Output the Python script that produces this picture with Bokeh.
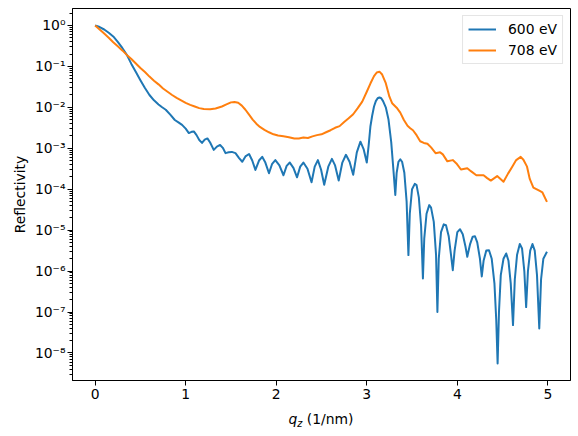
import numpy as np
from bokeh.plotting import figure
from bokeh.layouts import column
from bokeh.models import FixedTicker, CustomJSTickFormatter, Range1d, Div
from bokeh.embed import file_html
from bokeh.resources import INLINE

# Momentum transfer q_z (1/nm) and log10 of the reflectivity for both photon energies
q_600 = [
    0.00, 0.05, 0.10, 0.15, 0.20, 0.25, 0.30, 0.35, 0.40, 0.45,
    0.50, 0.55, 0.60, 0.65, 0.70, 0.74, 0.78, 0.83, 0.88, 0.92,
    0.96, 1.00, 1.035, 1.065, 1.09, 1.12, 1.15, 1.18, 1.21, 1.24,
    1.27, 1.31, 1.345, 1.38, 1.41, 1.44, 1.475, 1.51, 1.55, 1.59,
    1.625, 1.66, 1.70, 1.735, 1.77, 1.81, 1.845, 1.88, 1.92, 1.955,
    1.99, 2.035, 2.08, 2.115, 2.15, 2.19, 2.23, 2.265, 2.30, 2.345,
    2.39, 2.425, 2.46, 2.495, 2.53, 2.575, 2.615, 2.65, 2.69, 2.73,
    2.77, 2.81, 2.85, 2.89, 2.93, 2.965, 3.00, 3.02, 3.04, 3.06,
    3.08, 3.10, 3.12, 3.14, 3.16, 3.18, 3.21, 3.24, 3.27, 3.295,
    3.315, 3.33, 3.35, 3.37, 3.39, 3.415, 3.44, 3.46, 3.475, 3.50,
    3.53, 3.55, 3.575, 3.60, 3.62, 3.635, 3.66, 3.69, 3.71, 3.74,
    3.765, 3.78, 3.795, 3.82, 3.85, 3.875, 3.905, 3.93, 3.95, 3.97,
    4.00, 4.03, 4.06, 4.09, 4.11, 4.14, 4.17, 4.195, 4.22, 4.25,
    4.27, 4.29, 4.32, 4.35, 4.38, 4.41, 4.43, 4.445, 4.46, 4.48,
    4.51, 4.54, 4.565, 4.59, 4.615, 4.635, 4.66, 4.69, 4.715, 4.74,
    4.76, 4.78, 4.805, 4.83, 4.855, 4.88, 4.905, 4.925, 4.95, 4.99,
]
log_r_600 = [
    0.00, -0.04, -0.10, -0.18, -0.27, -0.40, -0.55, -0.72, -0.94, -1.14,
    -1.34, -1.53, -1.70, -1.83, -1.93, -2.00, -2.06, -2.18, -2.31, -2.37,
    -2.43, -2.52, -2.63, -2.60, -2.59, -2.68, -2.80, -2.87, -2.79, -2.76,
    -2.86, -3.04, -2.96, -2.92, -2.99, -3.12, -3.10, -3.09, -3.12, -3.24,
    -3.33, -3.20, -3.14, -3.30, -3.53, -3.30, -3.21, -3.35, -3.61, -3.38,
    -3.29, -3.42, -3.66, -3.43, -3.35, -3.48, -3.71, -3.45, -3.35, -3.50,
    -3.83, -3.45, -3.29, -3.52, -3.89, -3.45, -3.26, -3.42, -3.79, -3.35,
    -3.16, -3.33, -3.65, -3.10, -2.84, -3.02, -3.35, -2.95, -2.47, -2.20,
    -1.98, -1.85, -1.78, -1.76, -1.78, -1.85, -2.00, -2.30, -2.85, -3.55,
    -4.14, -3.60, -3.33, -3.27, -3.33, -3.60, -4.30, -5.61, -4.60, -4.00,
    -3.87, -3.90, -4.20, -4.90, -6.18, -5.20, -4.60, -4.39, -4.45, -4.80,
    -5.60, -7.00, -5.70, -5.05, -4.86, -4.88, -5.15, -5.60, -5.98, -5.50,
    -5.05, -4.98, -5.10, -5.40, -5.65, -5.35, -5.16, -5.15, -5.30, -5.70,
    -6.13, -5.75, -5.50, -5.49, -5.70, -6.30, -7.20, -8.26, -7.00, -6.10,
    -5.70, -5.57, -5.75, -6.30, -7.32, -6.20, -5.60, -5.34, -5.45, -6.00,
    -6.88, -6.00, -5.50, -5.34, -5.50, -6.10, -7.40, -6.20, -5.70, -5.53,
]

q_708 = [
    0.00, 0.05, 0.10, 0.15, 0.20, 0.25, 0.30, 0.35, 0.40, 0.45,
    0.50, 0.55, 0.60, 0.65, 0.70, 0.75, 0.80, 0.85, 0.90, 0.95,
    1.00, 1.05, 1.10, 1.15, 1.20, 1.27, 1.33, 1.40, 1.45, 1.50,
    1.54, 1.58, 1.62, 1.66, 1.70, 1.74, 1.78, 1.82, 1.87, 1.92,
    1.97, 2.02, 2.08, 2.14, 2.20, 2.25, 2.30, 2.35, 2.40, 2.45,
    2.50, 2.55, 2.60, 2.65, 2.70, 2.75, 2.80, 2.85, 2.90, 2.95,
    3.00, 3.04, 3.08, 3.11, 3.14, 3.17, 3.21, 3.25, 3.28, 3.33,
    3.37, 3.41, 3.45, 3.48, 3.51, 3.55, 3.59, 3.63, 3.67, 3.71,
    3.76, 3.81, 3.84, 3.89, 3.95, 3.99, 4.04, 4.11, 4.15, 4.21,
    4.29, 4.33, 4.37, 4.44, 4.48, 4.51, 4.56, 4.61, 4.65, 4.70,
    4.73, 4.77, 4.80, 4.84, 4.90, 4.94, 4.99,
]
log_r_708 = [
    0.00, -0.10, -0.20, -0.30, -0.41, -0.51, -0.61, -0.72, -0.82, -0.93,
    -1.04, -1.14, -1.25, -1.35, -1.44, -1.54, -1.62, -1.70, -1.77, -1.83,
    -1.89, -1.94, -1.98, -2.02, -2.04, -2.05, -2.03, -1.98, -1.93, -1.88,
    -1.87, -1.89, -1.96, -2.06, -2.18, -2.30, -2.40, -2.48, -2.55, -2.61,
    -2.66, -2.69, -2.71, -2.73, -2.76, -2.76, -2.74, -2.75, -2.71, -2.68,
    -2.66, -2.61, -2.56, -2.50, -2.46, -2.36, -2.27, -2.17, -2.02, -1.86,
    -1.62, -1.42, -1.24, -1.15, -1.13, -1.20, -1.41, -1.74, -1.90, -2.01,
    -2.13, -2.31, -2.45, -2.51, -2.56, -2.68, -2.83, -2.87, -2.89, -2.98,
    -3.12, -3.10, -3.15, -3.32, -3.29, -3.37, -3.52, -3.49, -3.56, -3.66,
    -3.66, -3.73, -3.79, -3.68, -3.76, -3.82, -3.62, -3.44, -3.29, -3.21,
    -3.28, -3.45, -3.75, -3.96, -4.03, -4.08, -4.31,
]

series_labels = ["600 eV", "708 eV"]
series_colors = ["#1f77b4", "#ff7f0e"]

x_ticks = [0, 1, 2, 3, 4, 5]
y_major = [10.0 ** k for k in range(-8, 1)]
y_minor = [m * 10.0 ** k for k in range(-9, 1) for m in range(2, 10)]

FONT = "DejaVu Sans"
FS = "13.9px"

p = figure(
    width=578, height=406,
    y_axis_type="log",
    x_range=Range1d(-0.25, 5.25),
    y_range=Range1d(10 ** -8.673, 10 ** 0.413),
    output_backend="svg", toolbar_location=None,
    min_border_left=72, min_border_right=8,
    min_border_top=8, min_border_bottom=26,
)
p.background_fill_color = "white"
p.border_fill_color = "white"
p.outline_line_color = "black"
p.outline_line_width = 1
p.xgrid.visible = False
p.ygrid.visible = False

for q, lr, lab, col in [(q_600, log_r_600, series_labels[0], series_colors[0]),
                        (q_708, log_r_708, series_labels[1], series_colors[1])]:
    p.line(q, 10.0 ** np.array(lr), line_color=col, line_width=2,
           line_join="round", legend_label=lab)

# x axis
xa = p.xaxis[0]
xa.ticker = FixedTicker(ticks=x_ticks)
xa.major_tick_in = 0
xa.major_tick_out = 5
xa.minor_tick_line_color = None
xa.major_label_standoff = 3
xa.major_label_text_font = FONT
xa.major_label_text_font_size = FS
xa.major_label_text_color = "black"
xa.axis_line_color = "black"
xa.major_tick_line_color = "black"

# y axis (log) with 10^n labels
ya = p.yaxis[0]
ya.ticker = FixedTicker(ticks=y_major, minor_ticks=y_minor)
ya.formatter = CustomJSTickFormatter(code="""
const sup = {"-": "\\u207b", "0": "\\u2070", "1": "\\u00b9", "2": "\\u00b2",
             "3": "\\u00b3", "4": "\\u2074", "5": "\\u2075", "6": "\\u2076",
             "7": "\\u2077", "8": "\\u2078", "9": "\\u2079"};
const e = Math.round(Math.log10(tick));
return "10" + String(e).split("").map(c => sup[c]).join("");
""")
ya.major_tick_in = 0
ya.major_tick_out = 5
ya.minor_tick_in = 0
ya.minor_tick_out = 3
ya.major_label_standoff = 2
ya.major_label_text_font = FONT
ya.major_label_text_font_size = FS
ya.major_label_text_color = "black"
ya.axis_line_color = "black"
ya.axis_label = "Reflectivity"
ya.axis_label_text_font = FONT
ya.axis_label_text_font_size = FS
ya.axis_label_text_font_style = "normal"
ya.axis_label_text_color = "black"
ya.axis_label_standoff = 4

lg = p.legend[0]
lg.location = "top_right"
lg.margin = 7
lg.padding = 5
lg.spacing = 5
lg.glyph_width = 28
lg.glyph_height = 16
lg.label_height = 16
lg.label_standoff = 12
lg.label_text_font = FONT
lg.label_text_font_size = FS
lg.label_text_color = "black"
lg.border_line_color = "#cccccc"
lg.border_line_width = 1
lg.background_fill_alpha = 0.8

# x axis title: italic q with italic subscript z, then the unit,
# centred under the plot frame
xlabel = Div(
    text=(
        '<div style="box-sizing:border-box;width:578px;padding-left:64px;padding-top:5px;'
        'text-align:center;font-family:\'DejaVu Sans\';font-size:13.9px;line-height:16px;'
        'color:black;white-space:nowrap">'
        '<i>q</i><i style="font-size:9.7px;position:relative;top:3px;line-height:0">z</i>'
        ' (1/nm)</div>'
    ),
    width=578, height=30, margin=0,
)

layout = column(p, xlabel, spacing=0, margin=0)
layout.background = "white"

open("out.html", "w").write(file_html(layout, INLINE))
